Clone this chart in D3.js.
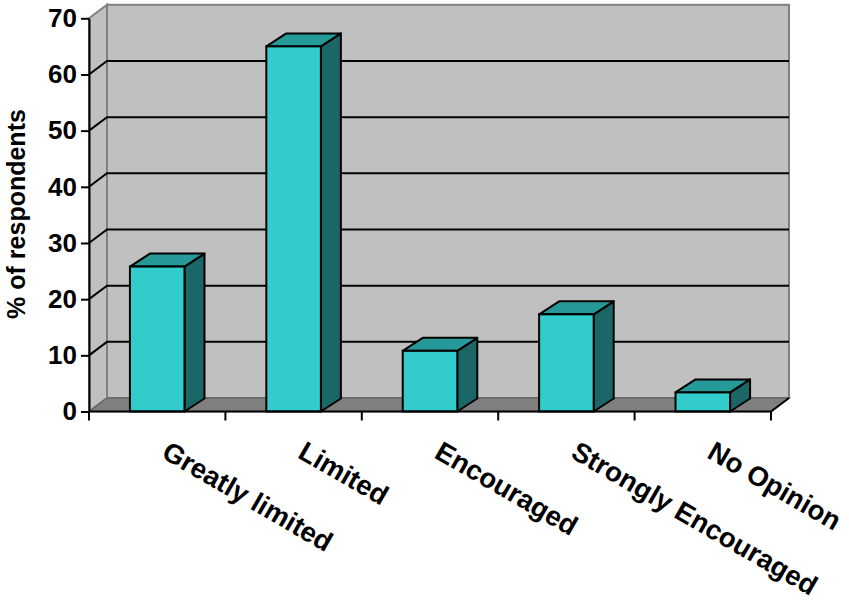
<!DOCTYPE html>
<html lang="en">
<head>
    <meta charset="UTF-8">
    <title>Respondents</title>
    <style>
        body { margin: 0; background: #fff; }
        text { font-family: "Liberation Sans", Arial, sans-serif; font-weight: bold; fill: #000; }
    </style>
</head>
<body>
<script src="https://d3js.org/d3.v7.min.js"></script>
<script>
    let w = 849, h = 600;

    // data
    let categories = ["Greatly limited", "Limited", "Encouraged", "Strongly Encouraged", "No Opinion"];
    let values = [25.8, 65.0, 10.8, 17.3, 3.4];
    let yTicks = [0, 10, 20, 30, 40, 50, 60, 70];
    let yLabel = "% of respondents";

    let plotLeft = 89, plotRight = 771, plotBottom = 411.5, plotTop = 18.3;
    let wallDx = 18, wallDy = -13.5;   // depth of back wall
    let barDx = 20, barDy = -13;       // depth of bars

    let svg = d3.select("body")
        .append("svg")
        .attr("width", w)
        .attr("height", h);

    let y = d3.scaleLinear()
        .domain([0, 70])
        .range([plotBottom, plotTop]);

    let x = d3.scaleBand()
        .domain(categories)
        .range([plotLeft, plotRight])
        .paddingInner(0.6)
        .paddingOuter(0.3);

    let pts = p => p.map(d => d.join(",")).join(" ");

    // back wall
    svg.append("rect")
        .attr("x", plotLeft + wallDx)
        .attr("y", plotTop + wallDy)
        .attr("width", plotRight - plotLeft)
        .attr("height", plotBottom - plotTop)
        .attr("fill", "#c0c0c0")
        .attr("stroke", "#808080")
        .attr("stroke-width", 2);

    // side wall
    svg.append("polygon")
        .attr("points", pts([[plotLeft, plotTop], [plotLeft + wallDx, plotTop + wallDy], [plotLeft + wallDx, plotBottom + wallDy], [plotLeft, plotBottom]]))
        .attr("fill", "#c0c0c0")
        .attr("stroke", "#808080")
        .attr("stroke-width", 2);

    // floor
    svg.append("polygon")
        .attr("points", pts([[plotLeft, plotBottom], [plotLeft + wallDx, plotBottom + wallDy], [plotRight + wallDx, plotBottom + wallDy], [plotRight, plotBottom]]))
        .attr("fill", "#808080")
        .attr("stroke", "#666")
        .attr("stroke-width", 1.5);
    svg.append("line")
        .attr("x1", plotRight).attr("y1", plotBottom)
        .attr("x2", plotRight + wallDx).attr("y2", plotBottom + wallDy)
        .attr("stroke", "#000").attr("stroke-width", 2);

    // grid lines on back wall and side wall
    let inner = yTicks.filter(t => t > 0 && t < 70);
    svg.selectAll(".grid")
        .data(inner)
        .enter()
        .append("polyline")
        .attr("class", "grid")
        .attr("points", d => pts([[plotLeft, y(d)], [plotLeft + wallDx, y(d) + wallDy], [plotRight + wallDx, y(d) + wallDy]]))
        .attr("fill", "none")
        .attr("stroke", "#000")
        .attr("stroke-width", 2);

    // bars
    let bars = svg.selectAll(".bar")
        .data(values)
        .enter()
        .append("g")
        .attr("class", "bar");

    let bw = x.bandwidth();
    bars.append("polygon")
        .attr("points", (d, i) => {
            let x0 = x(categories[i]) + bw, y0 = y(d), y1 = y(0);
            return pts([[x0, y0], [x0 + barDx, y0 + barDy], [x0 + barDx, y1 + barDy], [x0, y1]]);
        })
        .attr("fill", "#1b6666")
        .attr("stroke", "#000")
        .attr("stroke-width", 2)
        .attr("stroke-linejoin", "round");

    bars.append("polygon")
        .attr("points", (d, i) => {
            let x0 = x(categories[i]), y0 = y(d);
            return pts([[x0, y0], [x0 + barDx, y0 + barDy], [x0 + bw + barDx, y0 + barDy], [x0 + bw, y0]]);
        })
        .attr("fill", "#269999")
        .attr("stroke", "#000")
        .attr("stroke-width", 2)
        .attr("stroke-linejoin", "round");

    bars.append("rect")
        .attr("x", (d, i) => x(categories[i]))
        .attr("y", d => y(d))
        .attr("width", bw)
        .attr("height", d => y(0) - y(d))
        .attr("fill", "#33cccc")
        .attr("stroke", "#000")
        .attr("stroke-width", 2);

    // y axis
    let yAxis = svg.append("g")
        .attr("transform", "translate(" + plotLeft + ",0)")
        .call(d3.axisLeft(y).tickValues(yTicks).tickSize(8).tickSizeOuter(0).tickPadding(4));
    yAxis.select(".domain").attr("stroke", "#000").attr("stroke-width", 2);
    yAxis.selectAll(".tick line").attr("stroke", "#000").attr("stroke-width", 2);
    yAxis.selectAll(".tick text")
        .style("font-size", "26px")
        .style("font-family", "'Liberation Sans', Arial, sans-serif")
        .style("font-weight", "bold")
        .attr("fill", "#000");

    // x axis line and ticks at category boundaries
    svg.append("line")
        .attr("x1", plotLeft).attr("y1", plotBottom)
        .attr("x2", plotRight).attr("y2", plotBottom)
        .attr("stroke", "#000").attr("stroke-width", 2);

    let bounds = d3.range(categories.length + 1).map(i => plotLeft + i * x.step());
    svg.selectAll(".xtick")
        .data(bounds)
        .enter()
        .append("line")
        .attr("x1", d => d).attr("x2", d => d)
        .attr("y1", plotBottom).attr("y2", plotBottom + 9)
        .attr("stroke", "#000")
        .attr("stroke-width", 2);

    // category labels
    svg.selectAll(".xlabel")
        .data(categories)
        .enter()
        .append("text")
        .attr("transform", d => "translate(" + (x(d) + bw / 2 + 3) + "," + 457 + ") rotate(30)")
        .style("font-size", "27.5px")
        .text(d => d);

    // y label
    svg.append("text")
        .attr("transform", "translate(25,214) rotate(-90)")
        .attr("text-anchor", "middle")
        .style("font-size", "25px")
        .text(yLabel);
</script>
</body>
</html>
